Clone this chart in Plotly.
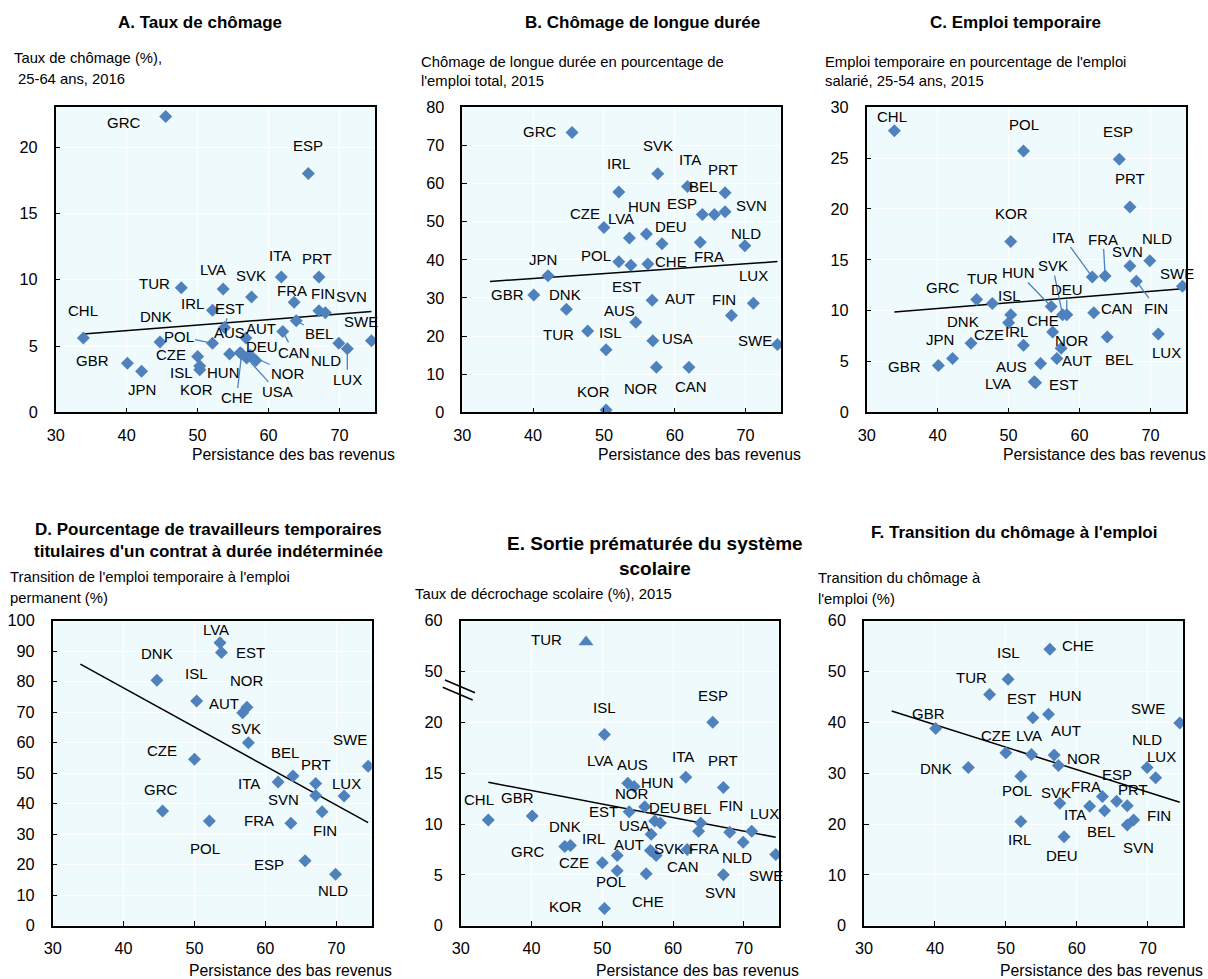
import numpy as np
import plotly.graph_objects as go

W, H = 1208, 979
FONT = "Liberation Sans, Arial, sans-serif"
BLUE = "#4F81BD"
PLOT_BG = "#EFFAFD"
TITLE_SIZE, SUB_SIZE, TICK_SIZE, LABEL_SIZE, XTITLE_SIZE = 17, 14.8, 16.3, 15, 15.8

# Persistence of low income (x axis shared by every panel)
countries = ["CHL", "GBR", "JPN", "DNK", "GRC", "TUR", "CZE", "ISL", "KOR", "IRL", "POL",
             "LVA", "EST", "AUS", "HUN", "CHE", "AUT", "USA", "NOR", "SVK", "DEU", "ITA",
             "CAN", "FRA", "BEL", "ESP", "SVN", "PRT", "FIN", "NLD", "LUX", "SWE"]
persistence = [33.9, 40.1, 42.1, 44.7, 45.5, 47.7, 50.0, 50.3, 50.3, 52.1, 52.1,
               53.6, 53.8, 54.5, 56.0, 56.2, 56.8, 56.9, 57.4, 57.6, 58.2, 61.8,
               62.0, 63.6, 63.9, 65.6, 67.1, 67.1, 68.0, 69.9, 71.1, 74.5]

# A. Unemployment rate (%), 25-64, 2016
a_countries = ["GRC", "ESP", "ITA", "PRT", "TUR", "LVA", "SVK", "FRA", "IRL", "SVN", "FIN",
               "BEL", "EST", "CAN", "CHL", "SWE", "AUT", "DNK", "POL", "NLD", "LUX", "HUN",
               "AUS", "CHE", "CZE", "NOR", "USA", "DEU", "GBR", "ISL", "KOR", "JPN"]
a_values = [22.3, 18.0, 10.2, 10.2, 9.4, 9.3, 8.7, 8.3, 7.7, 7.65, 7.5,
            6.9, 6.4, 6.1, 5.6, 5.4, 5.6, 5.3, 5.2, 5.2, 4.8, 4.5,
            4.4, 4.4, 4.2, 4.3, 4.1, 3.9, 3.7, 3.5, 3.2, 3.1]

# B. Long-term unemployment, % of total unemployment, 2015
b_countries = ["GRC", "SVK", "ITA", "IRL", "PRT", "BEL", "ESP", "SVN", "CZE", "HUN", "LVA",
               "DEU", "FRA", "NLD", "POL", "EST", "CHE", "JPN", "GBR", "AUT", "LUX", "DNK",
               "FIN", "AUS", "TUR", "USA", "SWE", "ISL", "NOR", "CAN", "KOR"]
b_values = [73.4, 62.6, 59.2, 57.8, 57.6, 51.9, 51.9, 52.6, 48.5, 46.8, 45.7,
            44.2, 44.6, 43.7, 39.5, 38.6, 38.9, 35.8, 30.8, 29.4, 28.6, 27.0,
            25.4, 23.6, 21.3, 18.8, 17.8, 16.4, 11.8, 11.8, 0.6]

# C. Temporary employment, % of dependent employment, 25-54, 2015
c_countries = ["CHL", "POL", "ESP", "PRT", "KOR", "NLD", "SVN", "ITA", "FRA", "FIN", "SWE",
               "GRC", "TUR", "HUN", "ISL", "SVK", "DEU", "CAN", "CZE", "CHE", "LUX", "BEL",
               "DNK", "IRL", "NOR", "JPN", "AUT", "AUS", "GBR", "LVA", "EST"]
c_values = [27.7, 25.7, 24.9, 20.2, 16.8, 14.9, 14.4, 13.3, 13.4, 12.9, 12.4,
            11.1, 10.7, 10.4, 9.6, 9.6, 9.6, 9.8, 8.8, 7.9, 7.7, 7.4,
            6.8, 6.6, 6.3, 5.3, 5.3, 4.8, 4.6, 3.0, 2.9]

# D. Transition from temporary to permanent employment (%)
d_countries = ["LVA", "EST", "DNK", "ISL", "NOR", "AUT", "SVK", "CZE", "SWE", "BEL",
               "ITA", "PRT", "SVN", "LUX", "GRC", "FIN", "POL", "FRA", "ESP", "NLD"]
d_values = [92.8, 89.6, 80.5, 73.7, 71.6, 69.8, 60.0, 54.6, 52.3, 49.1,
            47.1, 46.6, 42.7, 42.5, 37.6, 37.4, 34.3, 33.6, 21.3, 16.9]

# E. Early school leavers (%), 2015
e_countries = ["TUR", "ESP", "ISL", "ITA", "PRT", "LVA", "AUS", "HUN", "EST", "NOR", "DEU",
               "BEL", "FIN", "LUX", "FRA", "USA", "NLD", "CAN", "AUT", "SVK", "SWE",
               "CHL", "GBR", "DNK", "GRC", "IRL", "CZE", "POL", "CHE", "SVN", "KOR"]
e_values = [55.8, 20.0, 18.8, 14.6, 13.6, 14.0, 13.7, 11.7, 11.2, 10.3, 10.1,
            10.1, 9.2, 9.3, 9.3, 9.0, 8.2, 7.5, 7.4, 6.9, 7.0,
            10.4, 10.8, 7.8, 7.9, 6.9, 6.2, 5.4, 5.1, 5.0, 1.7]
e_outliers = ["TUR"]
e_trend_ends = [14.1, 8.7]          # published trend line, start and end values
e_tickvals = [0, 5, 10, 15, 20, 25, 30]
e_ticktext = ["0", "5", "10", "15", "20", "50", "60"]

# F. Transition from unemployment to employment (%)
f_countries = ["CHE", "ISL", "TUR", "HUN", "EST", "SWE", "GBR", "CZE", "LVA", "AUT", "NOR",
               "DNK", "NLD", "LUX", "POL", "FRA", "ESP", "SVK", "PRT", "ITA", "BEL",
               "FIN", "SVN", "IRL", "DEU"]
f_values = [54.4, 48.5, 45.5, 41.6, 40.9, 39.9, 38.8, 34.0, 33.7, 33.6, 31.5,
            31.1, 31.1, 29.1, 29.4, 25.4, 24.5, 24.1, 23.6, 23.5, 22.6,
            20.8, 19.8, 20.5, 17.5]

# ---- label placement: (dx, dy) in pixels from the marker, dy downwards ----
a_offsets = {"GRC": (-42, 6), "ESP": (0, -28), "ITA": (-1, -22), "PRT": (-2, -19), "TUR": (-27, -4),
             "LVA": (-10, -19), "SVK": (-1, -21), "FRA": (-2, -12), "IRL": (-20, -7), "SVN": (33, -14),
             "FIN": (-2, -19), "BEL": (23, 13), "EST": (5, -19), "CAN": (11, 21), "CHL": (0, -28),
             "SWE": (-10, -19), "AUT": (15, -10), "DNK": (-4, -26), "POL": (-34, -7), "NLD": (-13, 17),
             "LUX": (0, 31), "HUN": (-17, 20), "AUS": (0, -21), "CHE": (-5, 44), "CZE": (-27, -2),
             "NOR": (38, 18), "USA": (31, 34), "DEU": (6, -14), "GBR": (-35, -3), "ISL": (-18, 7),
             "KOR": (-3, 20), "JPN": (0, 18)}
a_leaders = {"EST", "POL", "BEL", "CAN", "CHE", "NOR", "USA", "LUX"}

b_offsets = {"GRC": (-32, -1), "SVK": (0, -28), "ITA": (2, -27), "IRL": (0, -28), "PRT": (-2, -23),
             "BEL": (1, -28), "ESP": (-32, -11), "SVN": (26, -6), "CZE": (-19, -14), "HUN": (-2, -27),
             "LVA": (-8, -20), "DEU": (9, -17), "FRA": (9, 14), "NLD": (1, -12), "POL": (-23, -6),
             "EST": (-4, 21), "CHE": (23, -2), "JPN": (-5, -16), "GBR": (-26, 0), "AUT": (28, -2),
             "LUX": (0, -28), "DNK": (-1, -15), "FIN": (-7, -16), "AUS": (-16, -12), "TUR": (-29, 3),
             "USA": (25, -2), "SWE": (-22, -4), "ISL": (4, -17), "NOR": (-15, 21), "CAN": (2, 19),
             "KOR": (-13, -19)}
b_leaders = set()

c_offsets = {"CHL": (-2, -14), "POL": (0, -27), "ESP": (-1, -28), "PRT": (0, -28), "KOR": (1, -28),
             "NLD": (7, -22), "SVN": (-2, -14), "ITA": (-29, -40), "FRA": (-2, -37), "FIN": (20, 27),
             "SWE": (-5, -13), "GRC": (-34, -12), "TUR": (-10, -25), "HUN": (-33, -34), "ISL": (-1, -19),
             "SVK": (-10, -49), "DEU": (0, -25), "CAN": (23, -4), "CZE": (-20, 12), "CHE": (-10, -11),
             "LUX": (8, 18), "BEL": (12, 22), "DNK": (-8, -22), "IRL": (-7, -14), "NOR": (11, -8),
             "JPN": (-13, -19), "AUT": (20, 2), "AUS": (-29, 3), "GBR": (-34, 1), "LVA": (-36, 2),
             "EST": (28, 2)}
c_leaders = {"ITA", "FRA", "FIN", "HUN", "SVK", "DEU"}

d_offsets = {"LVA": (-4, -13), "EST": (29, 0), "DNK": (0, -27), "ISL": (0, -27), "NOR": (0, -27),
             "AUT": (-19, -9), "SVK": (-2, -14), "CZE": (-32, -9), "SWE": (-18, -27), "BEL": (-8, -23),
             "ITA": (-29, 1), "PRT": (0, -19), "SVN": (-32, 4), "LUX": (2, -13), "GRC": (-2, -22),
             "FIN": (3, 19), "POL": (-4, 27), "FRA": (-32, -3), "ESP": (-36, 4), "NLD": (-3, 16)}
d_leaders = set()

e_offsets = {"TUR": (-40, -3), "ESP": (0, -27), "ISL": (0, -27), "ITA": (-3, -21), "PRT": (0, -27),
             "LVA": (-28, -23), "AUS": (-2, -22), "HUN": (13, -24), "EST": (-26, 0), "NOR": (-23, -27),
             "DEU": (5, -16), "BEL": (-4, -15), "FIN": (1, -27), "LUX": (13, -18), "FRA": (5, 17),
             "USA": (-17, -9), "NLD": (-6, 15), "CAN": (-4, 17), "AUT": (-21, -6), "SVK": (13, -7),
             "SWE": (-10, 21), "CHL": (-9, -20), "GBR": (-15, -18), "DNK": (0, -20), "GRC": (-42, 6),
             "IRL": (-24, -17), "CZE": (-28, 0), "POL": (-6, 11), "CHE": (2, 28), "SVN": (-3, 18),
             "KOR": (-39, -2)}
e_leaders = set()

f_offsets = {"CHE": (28, -4), "ISL": (0, -27), "TUR": (-18, -17), "HUN": (17, -19), "EST": (-11, -19),
             "SWE": (-32, -14), "GBR": (-7, -15), "CZE": (-10, -17), "LVA": (-2, -19), "AUT": (12, -24),
             "NOR": (26, -7), "DNK": (-32, 1), "NLD": (0, -28), "LUX": (6, -21), "POL": (-4, 14),
             "FRA": (-16, -10), "ESP": (0, -27), "SVK": (-4, -11), "PRT": (6, -16), "ITA": (-15, 8),
             "BEL": (-4, 21), "FIN": (25, -4), "SVN": (11, 22), "IRL": (-1, 18), "DEU": (-2, 19)}
f_leaders = set()

persist = dict(zip(countries, persistence))


def e_display(v):
    # values above the axis break (20 -> 50) are drawn on a compressed scale
    return v if v <= 20 else 25 + (v - 50) / 2


panels = [
    dict(names=a_countries, values=a_values, box=(55.7, 375.0, 107.3, 412.3), yrange=[0, 23],
         dtick=5, title="A. Taux de chômage", title_pos=(200, 22.7), title_size=TITLE_SIZE,
         sub=[("Taux de chômage (%),", 11.7, 58), ("25-64 ans, 2016", 15.5, 79)],
         offsets=a_offsets, leaders=a_leaders, trend=None),
    dict(names=b_countries, values=b_values, box=(462.3, 781.0, 107.3, 412.3), yrange=[0, 80],
         dtick=10, title="B. Chômage de longue durée", title_pos=(642, 22.7), title_size=TITLE_SIZE,
         sub=[("Chômage de longue durée en pourcentage de", 419, 62), ("l'emploi total, 2015", 419, 81)],
         offsets=b_offsets, leaders=b_leaders, trend=None),
    dict(names=c_countries, values=c_values, box=(866.7, 1186.0, 107.3, 412.3), yrange=[0, 30],
         dtick=5, title="C. Emploi temporaire", title_pos=(1015, 22.7), title_size=TITLE_SIZE,
         sub=[("Emploi temporaire en pourcentage de l'emploi", 822.7, 62),
              ("salarié, 25-54 ans, 2015", 822.7, 81)],
         offsets=c_offsets, leaders=c_leaders, trend=None),
    dict(names=d_countries, values=d_values, box=(52.7, 371.7, 620.7, 925.7), yrange=[0, 100],
         dtick=10, title="D. Pourcentage de travailleurs temporaires<br>titulaires d'un contrat à durée indéterminée",
         title_pos=(208, 540), title_size=TITLE_SIZE,
         sub=[("Transition de l'emploi temporaire à l'emploi", 8, 577), ("permanent (%)", 8, 598)],
         offsets=d_offsets, leaders=d_leaders, trend=None),
    dict(names=e_countries, values=e_values, box=(460.7, 779.3, 620.7, 925.7), yrange=[0, 30],
         dtick=None, title="E. Sortie prématurée du système<br>scolaire", title_pos=(655, 556),
         title_size=19, sub=[("Taux de décrochage scolaire (%), 2015", 413, 594)],
         offsets=e_offsets, leaders=e_leaders, trend=e_trend_ends),
    dict(names=f_countries, values=f_values, box=(864.0, 1183.3, 620.7, 925.7), yrange=[0, 60],
         dtick=10, title="F. Transition du chômage à l'emploi", title_pos=(1014, 532),
         title_size=TITLE_SIZE,
         sub=[("Transition du chômage à", 816, 578), ("l'emploi (%)", 816, 599)],
         offsets=f_offsets, leaders=f_leaders, trend=None),
]

fig = go.Figure()
layout = dict(width=W, height=H, autosize=False, margin=dict(l=0, r=0, t=0, b=0, pad=0),
              paper_bgcolor="white", plot_bgcolor=PLOT_BG, showlegend=False,
              font=dict(family=FONT, color="black"))

x_lo, x_hi = min(persistence), max(persistence)
annotations = []
shapes = []

for i, p in enumerate(panels):
    n = "" if i == 0 else str(i + 1)
    xref, yref = "x" + n, "y" + n
    x0, x1, y0, y1 = p["box"]
    common = dict(showline=True, linecolor="black", linewidth=1.5, mirror=True, ticks="inside",
                  ticklen=5, tickwidth=1.3, tickcolor="black", showgrid=True, gridcolor="white",
                  gridwidth=1, zeroline=False, automargin=False,
                  tickfont=dict(family=FONT, size=TICK_SIZE, color="black"))
    layout["xaxis" + n] = dict(common, domain=[x0 / W, x1 / W], anchor=yref, range=[30, 75],
                               tick0=30, dtick=10, ticklabelstandoff=7)
    yax = dict(common, domain=[1 - y1 / H, 1 - y0 / H], anchor=xref, range=p["yrange"],
               ticklabelstandoff=13)
    if p["dtick"] is None:
        yax.update(tickmode="array", tickvals=e_tickvals, ticktext=e_ticktext)
    else:
        yax.update(tick0=0, dtick=p["dtick"])
    layout["yaxis" + n] = yax

    names = p["names"]
    xs = np.array([persist[c] for c in names])
    vals = np.array(p["values"], dtype=float)
    is_e = p["dtick"] is None
    ys = np.array([e_display(v) for v in vals]) if is_e else vals
    outl = np.array([is_e and c in e_outliers for c in names])

    # trend line over the persistence range (OLS unless a published line is given)
    tx = np.array([x_lo, x_hi])
    if p["trend"] is None:
        slope, icpt = np.polyfit(xs, vals, 1)
        ty = slope * tx + icpt
    else:
        ty = np.array(p["trend"])
    fig.add_trace(go.Scatter(x=tx, y=ty, mode="lines", xaxis=xref, yaxis=yref,
                             line=dict(color="black", width=1.5), hoverinfo="skip"))

    fig.add_trace(go.Scatter(x=xs[~outl], y=ys[~outl], mode="markers", xaxis=xref, yaxis=yref,
                             marker=dict(symbol="diamond", size=10, color=BLUE, line=dict(width=0))))
    if outl.any():
        fig.add_trace(go.Scatter(x=xs[outl], y=ys[outl], mode="markers", xaxis=xref, yaxis=yref,
                                 marker=dict(symbol="triangle-up", size=13, color=BLUE,
                                             line=dict(width=0))))

    for c, x, y in zip(names, xs, ys):
        dx, dy = p["offsets"][c]
        lab = dict(x=x, y=y, xref=xref, yref=yref, text=c,
                   font=dict(family=FONT, size=LABEL_SIZE, color="black"))
        if c in p["leaders"]:
            lab.update(showarrow=True, arrowhead=0, arrowwidth=1.3, arrowcolor=BLUE,
                       ax=dx, ay=dy, standoff=0)
        else:
            lab.update(showarrow=False, xshift=dx, yshift=-dy)
        annotations.append(lab)

    tx_, ty_ = p["title_pos"]
    annotations.append(dict(x=tx_ / W, y=1 - ty_ / H, xref="paper", yref="paper",
                            text="<b>" + p["title"] + "</b>", showarrow=False, xanchor="center",
                            yanchor="middle",
                            font=dict(family=FONT, size=p["title_size"], color="black")))
    for txt, sx, sy in p["sub"]:
        annotations.append(dict(x=sx / W, y=1 - sy / H, xref="paper", yref="paper", text=txt,
                                showarrow=False, xanchor="left", yanchor="middle",
                                font=dict(family=FONT, size=SUB_SIZE, color="black")))
    xt_y = 455 if y0 < 500 else 970
    annotations.append(dict(x=(x1 + 22) / W, y=1 - xt_y / H, xref="paper", yref="paper",
                            text="Persistance des bas revenus", showarrow=False, xanchor="right",
                            yanchor="middle", font=dict(family=FONT, size=XTITLE_SIZE, color="black")))

# axis-break marks on panel E
for (ax0, ay0, ax1, ay1) in [(445, 680, 475, 692.7), (442.7, 687.3, 472.7, 700)]:
    shapes.append(dict(type="line", xref="paper", yref="paper", x0=ax0 / W, y0=1 - ay0 / H,
                       x1=ax1 / W, y1=1 - ay1 / H, line=dict(color="black", width=1.5)))

layout["annotations"] = annotations
layout["shapes"] = shapes
fig.update_layout(**layout)
fig.write_html("out.html")
